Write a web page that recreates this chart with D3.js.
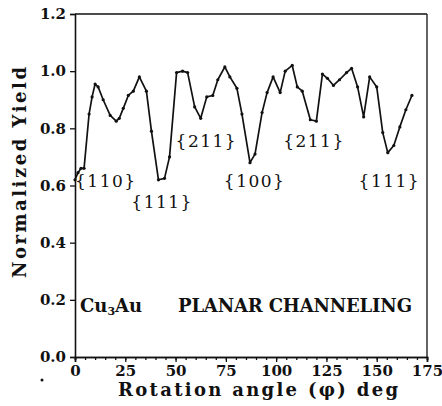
<!DOCTYPE html>
<html>
<head>
<meta charset="utf-8">
<script src="https://cdn.jsdelivr.net/npm/d3@7"></script>
<style>
  body { margin: 0; background: #fff; }
  text { font-family: "DejaVu Serif", "Liberation Serif", serif; fill: #111; }
</style>
</head>
<body>
<div id="container"></div>
<script>
// <--------- data --------->
let angles = [0, 1.5, 3, 4.5, 7, 8.5, 10, 11.5, 14, 17.5, 20.5, 22, 24, 26.5, 29, 32, 35.5, 38, 41.5, 44.5,
  47, 50.5, 53.5, 56, 59.5, 62.5, 65.5, 68.5, 71, 74.5, 77, 80.5, 83, 87, 89.5, 93, 95.5, 98.5, 102,
  104.5, 108, 110.5, 113, 117, 120, 123, 125.5, 128.5, 131.5, 135, 137.5, 140.5, 143.5, 146.5, 150,
  153, 155.5, 158.5, 161.5, 164.5, 167.5];
let yields = [0.62, 0.645, 0.66, 0.66, 0.85, 0.91, 0.955, 0.945, 0.9, 0.845, 0.825, 0.835, 0.87, 0.915, 0.93, 0.98, 0.93, 0.79, 0.62, 0.625,
  0.70, 0.995, 1.0, 0.995, 0.875, 0.835, 0.91, 0.915, 0.97, 1.015, 0.98, 0.94, 0.85, 0.68, 0.71, 0.855, 0.925, 0.98, 0.925,
  1.0, 1.02, 0.945, 0.93, 0.83, 0.825, 0.99, 0.975, 0.95, 0.97, 0.995, 1.01, 0.945, 0.84, 0.98, 0.945,
  0.785, 0.715, 0.74, 0.805, 0.865, 0.915];

let xTicks = [0, 25, 50, 75, 100, 125, 150, 175];
let yTicks = [0.0, 0.2, 0.4, 0.6, 0.8, 1.0, 1.2];

// plane labels: text, angle, yield position
let planeNames = ["{110}", "{111}", "{211}", "{100}", "{211}", "{111}"];
let planeAngles = [0, 28, 50, 74, 103.5, 141];
let planeYields = [0.595, 0.52, 0.735, 0.595, 0.735, 0.595];

// <---------the canvas---------->
let width = 442, height = 406;
let margin = {top: 14, right: 15, bottom: 49, left: 75};

let viz = d3.select("#container")
  .append("svg")
    .attr("width", width)
    .attr("height", height)
    .style("background-color", "#fff");

let x = d3.scaleLinear().domain([0, 175]).range([margin.left, width - margin.right]);
let y = d3.scaleLinear().domain([0, 1.2]).range([height - margin.bottom, margin.top]);

// frame: top and right lines
viz.append("line")
  .attr("x1", x(0)).attr("x2", x(175))
  .attr("y1", y(1.2)).attr("y2", y(1.2))
  .attr("stroke", "#111").attr("stroke-width", 1.3);
viz.append("line")
  .attr("x1", x(175)).attr("x2", x(175))
  .attr("y1", y(1.2)).attr("y2", y(0))
  .attr("stroke", "#111").attr("stroke-width", 1.3);

// x axis, minor ticks every 5 deg
let xMinor = viz.append("g")
  .attr("transform", "translate(0," + y(0) + ")")
  .call(d3.axisBottom(x).tickValues(d3.range(0, 176, 5)).tickSize(3).tickFormat(""));
let xAxis = viz.append("g")
  .attr("transform", "translate(0," + y(0) + ")")
  .call(d3.axisBottom(x).tickValues(xTicks).tickSize(5).tickPadding(3).tickFormat(d3.format("d")));

let yAxis = viz.append("g")
  .attr("transform", "translate(" + x(0) + ",0)")
  .call(d3.axisLeft(y).tickValues(yTicks).tickSize(5).tickPadding(4).tickFormat(d3.format(".1f")));

[xMinor, xAxis, yAxis].forEach(function(g){
  g.select(".domain").attr("stroke", "#111").attr("stroke-width", 1.6);
  g.selectAll(".tick line").attr("stroke", "#111").attr("stroke-width", 1.3);
  g.selectAll("text")
    .style("font-family", "'DejaVu Serif', serif")
    .style("font-weight", "bold")
    .style("font-size", "15px")
    .attr("fill", "#111");
});

// <---------the curve---------->
let points = angles.map(function(a, i){ return [a, yields[i]]; });

let lineGen = d3.line()
  .x(function(d){ return x(d[0]); })
  .y(function(d){ return y(d[1]); });

viz.append("path")
  .datum(points)
  .attr("d", lineGen)
  .attr("fill", "none")
  .attr("stroke", "#111")
  .attr("stroke-width", 1.7)
  .attr("stroke-linejoin", "round");

viz.selectAll(".dot").data(points).enter()
  .append("circle")
    .attr("class", "dot")
    .attr("cx", function(d){ return x(d[0]); })
    .attr("cy", function(d){ return y(d[1]); })
    .attr("r", 1.6)
    .attr("fill", "#111");

// <---------plane labels---------->
viz.selectAll(".plane").data(planeNames).enter()
  .append("text")
    .attr("class", "plane")
    .attr("x", function(d, i){ return x(planeAngles[i]); })
    .attr("y", function(d, i){ return y(planeYields[i]); })
    .style("font-size", "17px")
    .style("letter-spacing", "1.5px")
    .text(function(d){ return d; });

// material label
let note = viz.append("text")
  .attr("x", 80)
  .attr("y", 312)
  .style("font-size", "18px")
  .style("font-weight", "bold");
note.append("tspan").text("Cu");
note.append("tspan").attr("font-size", "11px").attr("dy", 3).text("3");
note.append("tspan").attr("dy", -3).text("Au");
viz.append("text")
  .attr("x", 178)
  .attr("y", 312)
  .attr("textLength", 234)
  .style("font-size", "18px")
  .style("font-weight", "bold")
  .text("PLANAR  CHANNELING");

// axis titles
viz.append("text")
  .attr("x", 118)
  .attr("y", 396)
  .attr("textLength", 280)
  .style("font-size", "18px")
  .style("font-weight", "bold")
  .text("Rotation angle (\u03c6) deg");

viz.append("text")
  .attr("transform", "translate(26," + 278 + ") rotate(-90)")
  .attr("textLength", 211)
  .style("font-size", "18px")
  .style("font-weight", "bold")
  .text("Normalized Yield");

// stray speck near the origin
viz.append("circle")
  .attr("cx", 42).attr("cy", 380).attr("r", 1.5).attr("fill", "#111");
</script>
</body>
</html>
